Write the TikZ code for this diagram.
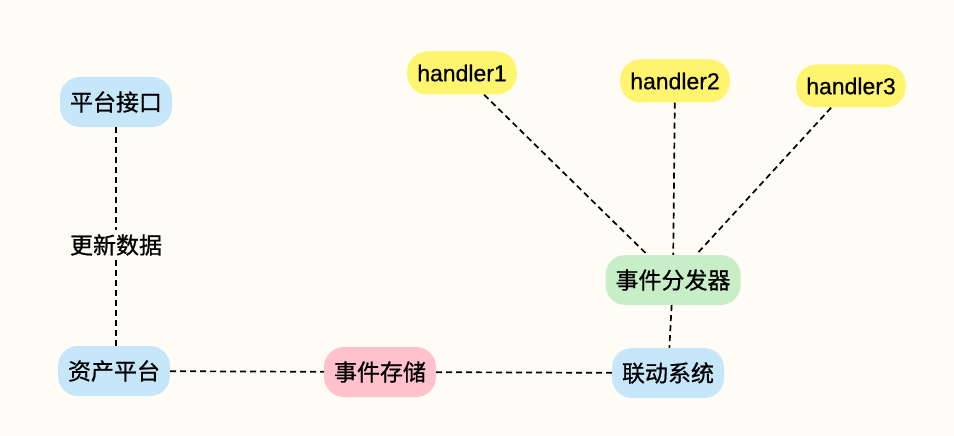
\documentclass[tikz,border=0pt]{standalone}
\usepackage{fontspec}
\setmainfont[FakeBold=0.6]{Liberation Sans}
\newfontfamily\cjk[FakeBold=0.8]{Noto Sans CJK SC}
\definecolor{bgcream}{HTML}{FFFCF5}
\definecolor{sysblue}{HTML}{C6E6FA}
\definecolor{hdlyellow}{HTML}{FFF46E}
\definecolor{dispgreen}{HTML}{C8EEC8}
\definecolor{storepink}{HTML}{FFC2CC}

\begin{document}
\begin{tikzpicture}[x=1pt, y=-1pt,
	box/.style={rounded corners=20pt, inner xsep=10pt, inner ysep=0pt, minimum height=50pt, font=\cjk\fontsize{23}{27}\selectfont},
	sys/.style={box, fill=sysblue},
	hdl/.style={box, fill=hdlyellow, minimum height=43pt, font=\fontsize{23}{27}\selectfont},
	link/.style={dash pattern=on 6pt off 4pt, line width=1.7pt}]
	\useasboundingbox[fill=bgcream] (0,0) rectangle (954,436);

	% left column
	\node[sys] (api) at (116,102) {平台接口};
	\node[font=\cjk\fontsize{23}{27}\selectfont, inner sep=4pt] (upd) at (116,245) {更新数据};
	\node[sys] (asset) at (114,371) {资产平台};

	% bottom row
	\node[box, fill=storepink] (store) at (380,372) {事件存储};
	\node[sys] (link) at (668,373) {联动系统};
	\node[box, fill=dispgreen] (disp) at (673,280) {事件分发器};

	% handlers
	\node[hdl] (h1) at (462,73) {handler1};
	\node[hdl] (h2) at (675,81) {handler2};
	\node[hdl] (h3) at (851,86) {handler3};

	\draw[link] (api) -- (upd);
	\draw[link] (upd) -- (asset.north -| upd);
	\draw[link] (asset) -- (store);
	\draw[link] (store) -- (link);
	\draw[link] (disp) -- (link);
	\foreach \h in {h1,h2,h3}
		\draw[link] (\h) -- (disp);
\end{tikzpicture}
\end{document}
